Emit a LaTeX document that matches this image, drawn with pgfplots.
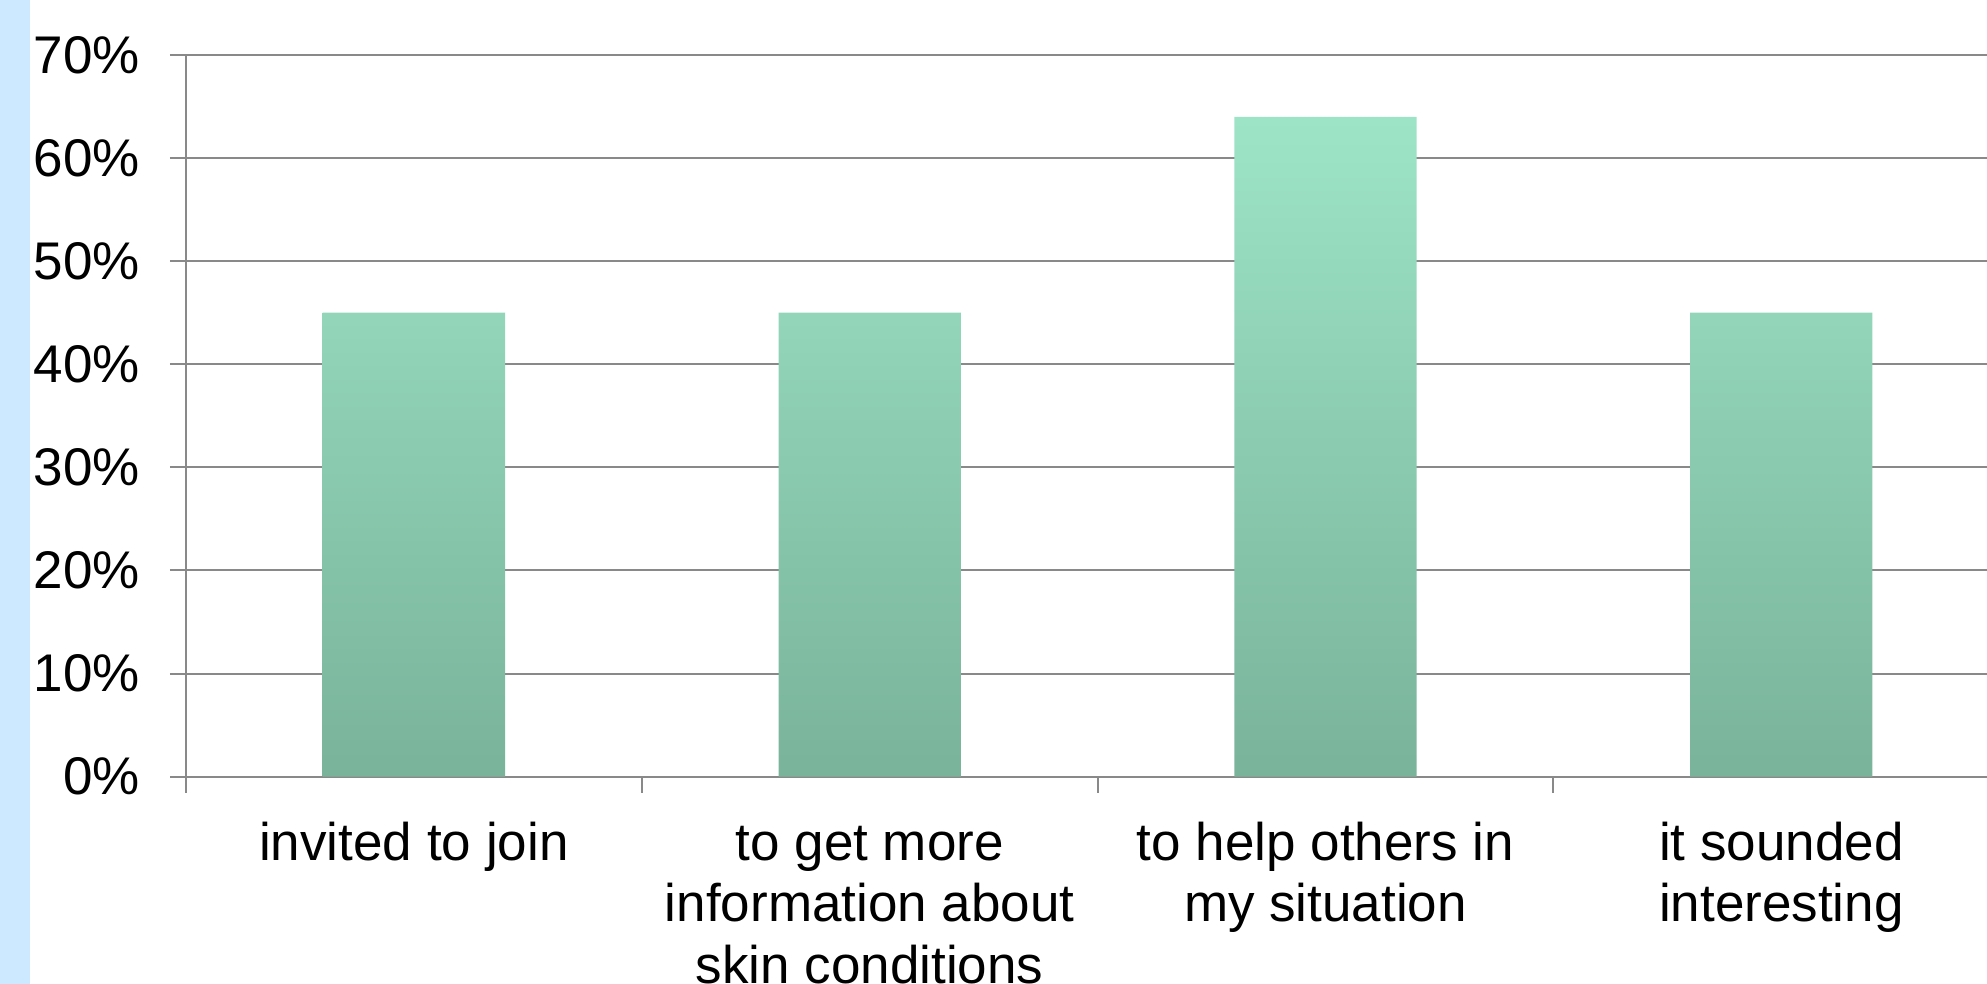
\documentclass[border=0pt]{standalone}
\usepackage{pgfplots}
\pgfplotsset{compat=1.18}
\usepackage{fontspec}
\setmainfont{Liberation Sans}
\definecolor{stripblue}{HTML}{CCE9FF}
\definecolor{gridgray}{HTML}{898989}
\definecolor{bartop}{HTML}{9DE4C6}
\definecolor{barmid}{HTML}{96DBBD}
\definecolor{barbot}{HTML}{79B39A}
\begin{document}
\begin{tikzpicture}
\useasboundingbox (-93pt,-103.6pt) rectangle (900.5pt,388.3pt);
\clip (-93pt,-103.6pt) rectangle (900.5pt,388.3pt);
\fill[stripblue] (-93pt,-110pt) rectangle (-78pt,400pt);
\begin{axis}[
  at={(0,0)}, anchor=origin,
  scale only axis,
  width=911.6pt, height=360.8pt,
  xmin=0.5, xmax=4.5,
  ymin=0, ymax=70,
  axis lines=left,
  axis line style={-, gridgray, line width=1pt},
  ytick={0,10,...,70},
  yticklabel={\pgfmathprintnumber{\tick}\%},
  ymajorgrids,
  major grid style={gridgray, line width=1pt},
  tick align=outside,
  major tick length=8pt,
  minor tick length=8pt,
  tick style={gridgray, line width=1pt},
  xtick={1,2,3,4},
  major x tick style={draw=none},
  minor xtick={0.5,1.5,2.5,3.5},
  xticklabels={invited to join, {\vphantom{d}to get more\\information about\\skin conditions}, {to help others in\\my situation}, {it sounded\\interesting}},
  /pgf/number format/assume math mode=true,
  ticklabel style={font=\fontsize{26.5}{30.75}\selectfont},
  yticklabel style={anchor=east, inner sep=0pt, xshift=-14.8pt},
  xticklabel style={align=center, anchor=north, inner sep=0pt, yshift=-14.5pt},
  clip=false,
]
\addplot[ybar, bar width=0.4, draw=none, top color=bartop, middle color=barmid, bottom color=barbot]
  coordinates {(1,45) (2,45) (3,64) (4,45)};
\end{axis}
\end{tikzpicture}
\end{document}
